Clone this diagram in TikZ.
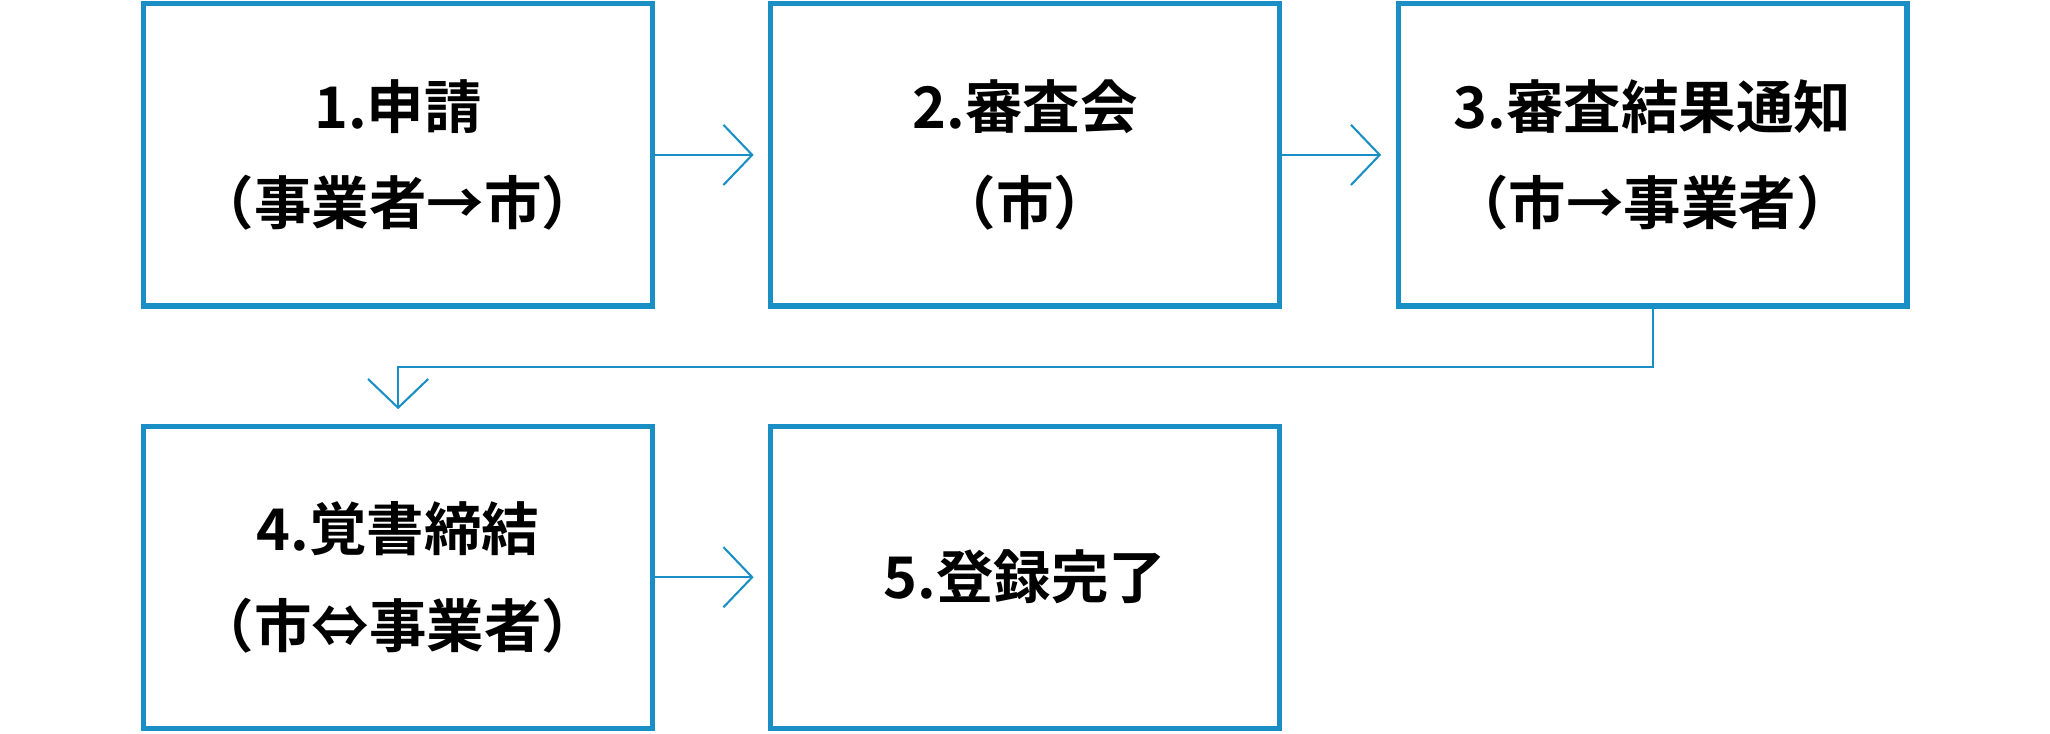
\documentclass[tikz,border=0pt]{standalone}
\usepackage{fontspec}
\newfontfamily\cjk{Noto Sans CJK JP Bold}
\usetikzlibrary{arrows.meta}
\definecolor{bl}{HTML}{1A8FC6}
\begin{document}
\begin{tikzpicture}[x=0.01cm,y=-0.01cm,
 box/.style={draw=bl,line width=1.1pt,minimum width=3.89cm,minimum height=2.31cm,align=center,font=\cjk\fontsize{12.5}{21}\selectfont,inner sep=0pt},
 con/.style={draw=bl,line width=0.45pt,-{Straight Barb[length=2.2mm,width=4.6mm,line width=0.45pt]},shorten >=1.1mm}]
\useasboundingbox (0,0) rectangle (1568,561);
\node[box] (b1) at (304.5,118.5) {1.申請\\（事業者→市）};
\node[box] (b2) at (784,118.5) {2.審査会\\（市）};
\node[box] (b3) at (1264,118.5) {3.審査結果通知\\（市→事業者）};
\node[box] (b4) at (304.5,441.5) {4.覚書締結\\（市⇔事業者）};
\node[box] (b5) at (784,441.5) {5.登録完了};
\draw[con] (b1) -- (b2);
\draw[con] (b2) -- (b3);
\draw[con] (b4) -- (b5);
\draw[con] (b3.south) -- ++(0,45) -| (b4.north);
\end{tikzpicture}
\end{document}
